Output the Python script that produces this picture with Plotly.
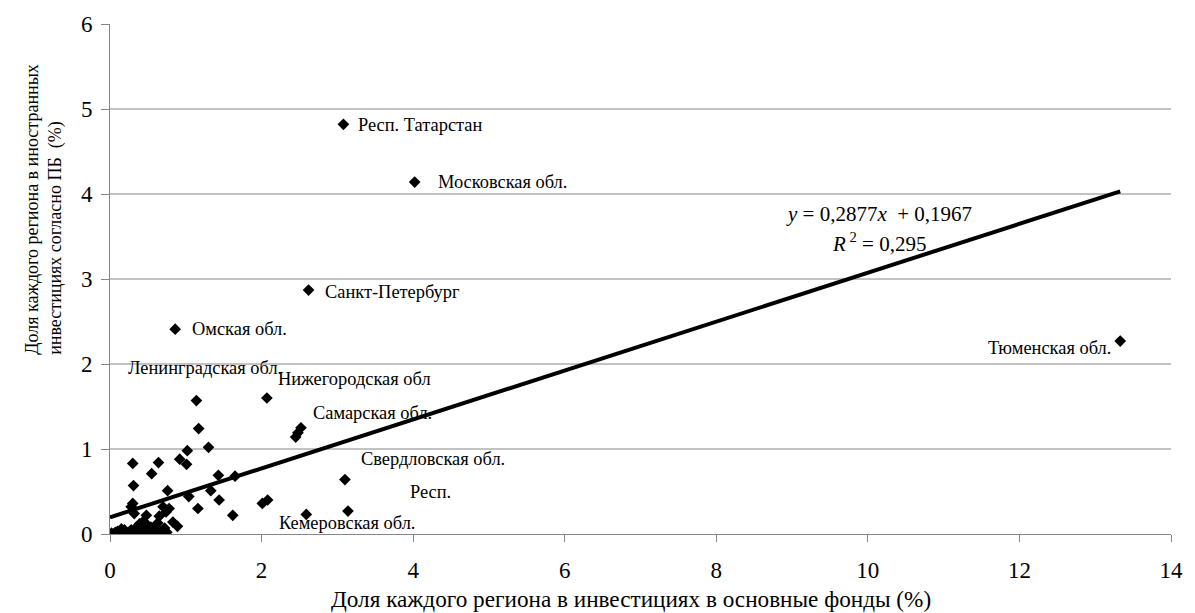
import plotly.graph_objects as go

# ---- data ----
x_vals = [3.08, 4.02, 2.62, 0.86, 13.33, 1.14, 2.07, 2.52, 2.45, 2.48,
          1.17, 1.30, 1.02, 0.92, 1.01, 0.30, 0.64, 0.55, 0.31, 1.43,
          1.65, 0.76, 1.33, 1.04, 1.44, 2.08, 2.01, 0.30, 0.28, 1.16,
          1.62, 3.10, 3.14, 2.59, 0.48, 0.70, 0.74, 0.78, 0.83, 0.89,
          0.65, 0.63, 0.54, 0.39, 0.32, 0.28, 0.19, 0.10, 0.02, 0.45,
          0.52, 0.63, 0.36, 0.23, 0.72, 0.41, 0.12, 0.07, 0.25, 0.33,
          0.58, 0.68, 0.40, 0.48, 0.05, 0.15, 0.35, 0.60, 0.75, 0.50,
          0.44, 0.16]
y_vals = [4.82, 4.14, 2.87, 2.41, 2.27, 1.57, 1.60, 1.25, 1.14, 1.19,
          1.24, 1.02, 0.98, 0.88, 0.82, 0.83, 0.84, 0.71, 0.57, 0.69,
          0.68, 0.51, 0.51, 0.44, 0.40, 0.40, 0.36, 0.36, 0.32, 0.30,
          0.22, 0.64, 0.27, 0.23, 0.22, 0.32, 0.26, 0.30, 0.14, 0.09,
          0.21, 0.13, 0.08, 0.12, 0.24, 0.05, 0.05, 0.03, 0.01, 0.02,
          0.02, 0.05, 0.01, 0.01, 0.07, 0.07, 0.00, 0.02, 0.02, 0.04,
          0.04, 0.03, 0.00, 0.05, 0.00, 0.06, 0.08, 0.00, 0.02, 0.10,
          0.15, 0.01]

label_texts = ["Респ. Татарстан", "Московская обл.", "Санкт-Петербург", "Омская обл.",
               "Ленинградская обл.", "Нижегородская обл", "Самарская обл.",
               "Свердловская обл.", "Респ.", "Кемеровская обл.", "Тюменская обл."]
label_x = [3.25, 4.30, 2.81, 1.06, 0.21, 2.19, 2.65, 3.29, 3.93, 2.21, 13.23]
label_y = [4.81, 4.14, 2.85, 2.41, 1.95, 1.82, 1.42, 0.88, 0.49, 0.125, 2.19]
label_anchor = ["left"] * 10 + ["right"]

slope = 0.2877
intercept = 0.1967
r_squared = 0.295

x_ticks = [0, 2, 4, 6, 8, 10, 12, 14]
y_ticks = [0, 1, 2, 3, 4, 5, 6]

x_title = "Доля каждого региона в инвестициях в основные фонды (%)"
y_title = "Доля каждого региона в иностранных<br>инвестициях согласно ПБ  (%)"

FONT = "Liberation Serif, Times New Roman, serif"
GRID = "#868686"

fig = go.Figure()

# trend line
x_line = [0, max(x_vals)]
y_line = [intercept + slope * v for v in x_line]
fig.add_trace(go.Scatter(x=x_line, y=y_line, mode="lines",
                         line=dict(color="black", width=4),
                         hoverinfo="skip", showlegend=False))

fig.add_trace(go.Scatter(x=x_vals, y=y_vals, mode="markers",
                         marker=dict(symbol="diamond", size=9, color="black"),
                         showlegend=False))

annotations = []
for t, lx, ly, anc in zip(label_texts, label_x, label_y, label_anchor):
    annotations.append(dict(x=lx, y=ly, xref="x", yref="y", text=t,
                            showarrow=False, xanchor=anc, yanchor="middle",
                            font=dict(family=FONT, size=18.4, color="black")))

eq_text = "<i>y</i> = %s<i>x</i>  + %s" % (str(slope).replace(".", ","), str(intercept).replace(".", ","))
r2_text = "<i>R</i><sup> 2</sup> = %s" % str(r_squared).replace(".", ",")
annotations.append(dict(x=10.15, y=3.77, xref="x", yref="y", text=eq_text, showarrow=False,
                        xanchor="center", yanchor="middle",
                        font=dict(family=FONT, size=21, color="black")))
annotations.append(dict(x=10.15, y=3.43, xref="x", yref="y", text=r2_text, showarrow=False,
                        xanchor="center", yanchor="middle",
                        font=dict(family=FONT, size=21, color="black")))

annotations.append(dict(x=0.4915, y=-0.1265, xref="paper", yref="paper", text=x_title,
                        showarrow=False, xanchor="center", yanchor="middle",
                        font=dict(family=FONT, size=23.2, color="black")))
annotations.append(dict(x=-0.063, y=0.636, xref="paper", yref="paper", text=y_title,
                        showarrow=False, xanchor="center", yanchor="middle",
                        textangle=-90, align="left",
                        font=dict(family=FONT, size=18, color="black")))

shapes = []
for v in y_ticks[1:-1]:
    shapes.append(dict(type="line", xref="paper", yref="y", x0=0, x1=1, y0=v, y1=v,
                       line=dict(color=GRID, width=1), layer="below"))

fig.update_layout(
    width=1195, height=613,
    margin=dict(l=110, r=22, t=20, b=79),
    paper_bgcolor="white", plot_bgcolor="white",
    font=dict(family=FONT, color="black"),
    annotations=annotations,
    shapes=shapes,
    showlegend=False,
)
fig.update_xaxes(range=[0, 14], tickvals=x_ticks, showgrid=False, zeroline=False,
                 showline=True, linecolor=GRID, linewidth=1,
                 ticks="outside", ticklen=7, tickcolor=GRID,
                 ticklabelstandoff=8,
                 tickfont=dict(family=FONT, size=23, color="black"))
fig.update_yaxes(range=[0, 6], tickvals=y_ticks, showgrid=False, zeroline=False,
                 showline=True, linecolor=GRID, linewidth=1,
                 ticks="outside", ticklen=8, tickcolor=GRID,
                 ticklabelstandoff=4,
                 tickfont=dict(family=FONT, size=23, color="black"))

fig.write_html("out.html", config={"displayModeBar": False},
               post_script="document.body.style.margin='0px';")
